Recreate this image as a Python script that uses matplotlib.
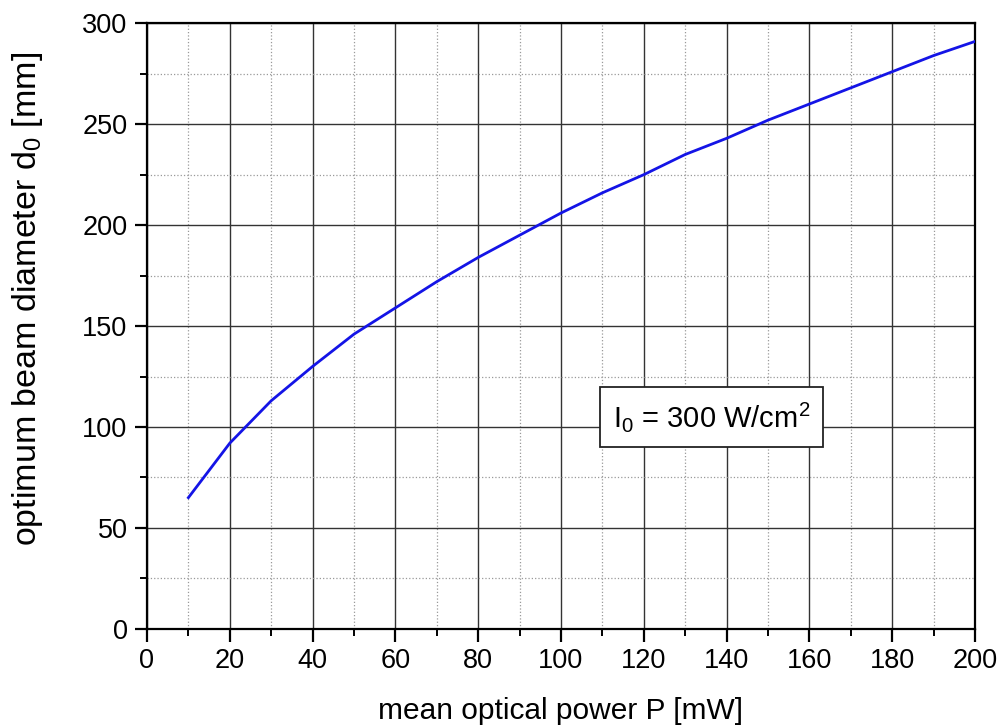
import numpy as np
import matplotlib
matplotlib.use('Agg')
import matplotlib.pyplot as plt
from matplotlib.ticker import MultipleLocator

#%% data
power_mW = [10, 20, 30, 40, 50, 60, 70, 80, 90, 100,
            110, 120, 130, 140, 150, 160, 170, 180, 190, 200]
d0_mm = [65, 92, 113, 130, 146, 159, 172, 184, 195, 206,
         216, 225, 235, 243, 252, 260, 268, 276, 284, 291]

plt.rcParams['font.family'] = ['Liberation Sans', 'DejaVu Sans']

#%% plot
fig = plt.figure(figsize=(10, 7.27), dpi=100)
ax = fig.add_axes([0.147, 0.135, 0.828, 0.833])

ax.plot(power_mW, d0_mm, color='#1414e6', linewidth=2.0, zorder=3)

ax.set_xlim(0, 200)
ax.set_ylim(0, 300)
ax.xaxis.set_major_locator(MultipleLocator(20))
ax.xaxis.set_minor_locator(MultipleLocator(10))
ax.yaxis.set_major_locator(MultipleLocator(50))
ax.yaxis.set_minor_locator(MultipleLocator(25))

ax.grid(which='major', color='#333333', linewidth=1.0, linestyle='-')
ax.grid(which='minor', color='#999999', linewidth=0.9, linestyle=':')
ax.set_axisbelow(True)

ax.tick_params(which='major', direction='out', length=9, width=1.6, labelsize=19.5, pad=5)
ax.tick_params(which='minor', direction='out', length=5, width=1.4)
ax.tick_params(top=False, right=False, which='both')
for s in ax.spines.values():
    s.set_linewidth(1.6)

ax.set_xlabel('mean optical power P [mW]', fontsize=21.5, labelpad=16)
ax.set_ylabel('optimum beam diameter d$_\\mathregular{0}$ [mm]', fontsize=24.5)
ax.yaxis.set_label_coords(-0.123, 0.545)

ax.text(0.682, 0.35, 'I$_\\mathregular{0}$ = 300 W/cm$^\\mathregular{2}$', transform=ax.transAxes,
        fontsize=21, va='center', ha='center',
        bbox=dict(boxstyle='square,pad=0.45', facecolor='white', edgecolor='#222222', linewidth=1.3),
        zorder=4)

plt.savefig('out.png', dpi=100)
